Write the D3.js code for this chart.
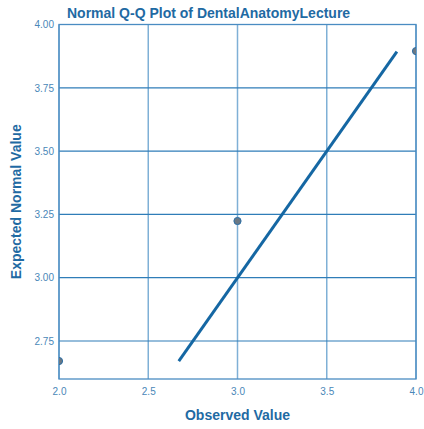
<!DOCTYPE html>
<html>
<head>
<meta charset="utf-8">
<script src="https://cdn.jsdelivr.net/npm/d3@7"></script>
<style>
  body { margin: 0; background: #fff; }
  text { font-family: Arial, "Liberation Sans", sans-serif; }
</style>
</head>
<body>
<div id="chart"></div>
<script>
// observed values and their expected normal values
const observed = [2.0, 3.0, 4.0];
const expected = [2.671, 3.224, 3.895];
// reference line endpoints (y = x)
const lineEnds = [2.671, 3.893];
const xTicks = [2.0, 2.5, 3.0, 3.5, 4.0];
const yTicks = [2.75, 3.0, 3.25, 3.5, 3.75, 4.0];

const W = 424, H = 429;
const margin = { top: 24.5, right: 8, bottom: 50, left: 59 };
const width = W - margin.left - margin.right;
const height = H - margin.top - margin.bottom;

const svg = d3.select('#chart').append('svg')
  .attr('width', W).attr('height', H);

const g = svg.append('g')
  .attr('transform', `translate(${margin.left},${margin.top})`);

const x = d3.scaleLinear().domain([2.0, 4.0]).range([0, width]);
const y = d3.scaleLinear().domain([2.6, 4.0]).range([height, 0]);

g.append('clipPath').attr('id', 'clip')
  .append('rect').attr('width', width).attr('height', height);

// vertical grid
g.selectAll('.vgrid').data(xTicks).enter().append('line')
  .attr('x1', d => x(d)).attr('x2', d => x(d))
  .attr('y1', 0).attr('y2', height)
  .attr('stroke', '#7fb0d6').attr('stroke-width', 1.5);

// horizontal grid
g.selectAll('.hgrid').data(yTicks).enter().append('line')
  .attr('x1', 0).attr('x2', width)
  .attr('y1', d => y(d)).attr('y2', d => y(d))
  .attr('stroke', '#2f7db8').attr('stroke-width', 1.2);

// frame
g.append('rect').attr('width', width).attr('height', height)
  .attr('fill', 'none').attr('stroke', '#4a8cc2').attr('stroke-width', 1.3);

const plot = g.append('g').attr('clip-path', 'url(#clip)');

plot.append('line')
  .attr('x1', x(lineEnds[0])).attr('y1', y(lineEnds[0]))
  .attr('x2', x(lineEnds[1])).attr('y2', y(lineEnds[1]))
  .attr('stroke', '#1567a3').attr('stroke-width', 3);

plot.selectAll('.pt').data(observed).enter().append('circle')
  .attr('cx', d => x(d)).attr('cy', (d, i) => y(expected[i]))
  .attr('r', 3.6)
  .attr('fill', '#6b7884').attr('stroke', '#2a6ea6').attr('stroke-width', 1);

// x tick labels
const xAxis = g.append('g')
  .attr('transform', `translate(0,${height})`)
  .call(d3.axisBottom(x).tickValues(xTicks).tickFormat(d3.format('.1f')).tickSize(0).tickPadding(9));
xAxis.select('.domain').remove();
xAxis.selectAll('text').attr('fill', '#4a87b8').style('font-size', '10px');

// y tick labels
const yAxis = g.append('g')
  .call(d3.axisLeft(y).tickValues(yTicks).tickFormat(d3.format('.2f')).tickSize(0).tickPadding(5));
yAxis.select('.domain').remove();
yAxis.selectAll('text').attr('fill', '#4a87b8').style('font-size', '10px');

svg.append('text')
  .attr('x', 67).attr('y', 18)
  .attr('fill', '#1f6aa3').style('font-size', '14px').style('font-weight', 'bold')
  .text('Normal Q-Q Plot of DentalAnatomyLecture');

svg.append('text')
  .attr('x', margin.left + width / 2).attr('y', 420)
  .attr('text-anchor', 'middle')
  .attr('fill', '#1f6aa3').style('font-size', '14px').style('font-weight', 'bold')
  .text('Observed Value');

svg.append('text')
  .attr('transform', `translate(21,${margin.top + height / 2}) rotate(-90)`)
  .attr('text-anchor', 'middle')
  .attr('fill', '#1f6aa3').style('font-size', '14px').style('font-weight', 'bold')
  .text('Expected Normal Value');
</script>
</body>
</html>
